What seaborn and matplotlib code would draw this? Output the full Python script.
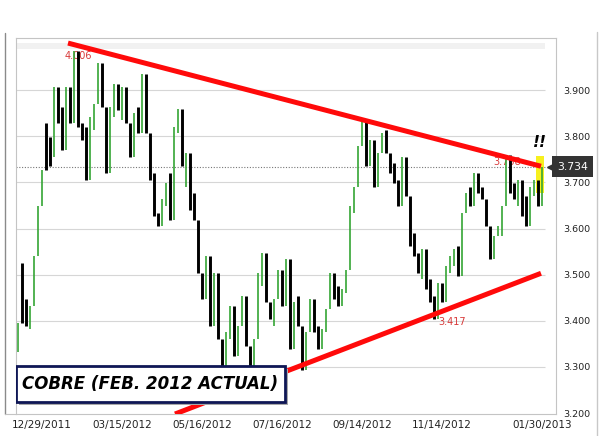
import numpy as np
import pandas as pd
import matplotlib
matplotlib.use("Agg")
import matplotlib.pyplot as plt
from matplotlib.patches import Rectangle
from matplotlib.lines import Line2D
import seaborn as sns

# copper bars (about one bar per two sessions)
highs = [3.396, 3.526, 3.447, 3.432, 3.540, 3.648, 3.727, 3.828, 3.799, 3.907,
         3.893, 3.864, 3.907, 3.886, 3.985, 3.900, 3.828, 3.821, 3.842, 3.871,
         3.958, 3.943, 3.850, 3.864, 3.914, 3.900, 3.907, 3.878, 3.821, 3.850,
         3.864, 3.936, 3.878, 3.799,
         3.720, 3.634, 3.663, 3.699, 3.720, 3.821, 3.860, 3.792, 3.763, 3.706,
         3.677, 3.562, 3.504, 3.540, 3.476, 3.504, 3.447, 3.360, 3.375, 3.432,
         3.382, 3.389, 3.454, 3.411, 3.339, 3.360, 3.504, 3.547, 3.519, 3.440,
         3.447, 3.511,
         3.504, 3.533, 3.396, 3.440, 3.454, 3.360, 3.375, 3.447, 3.425, 3.389,
         3.382, 3.425, 3.504, 3.504, 3.476, 3.468, 3.511, 3.648, 3.691, 3.778,
         3.835, 3.814, 3.792, 3.749, 3.763, 3.806, 3.814, 3.763, 3.742, 3.706,
         3.756, 3.720, 3.641,
         3.591, 3.547, 3.555, 3.519, 3.490, 3.454, 3.483, 3.483, 3.519, 3.540,
         3.555, 3.562, 3.634, 3.677, 3.691, 3.720, 3.713, 3.691, 3.663, 3.591,
         3.584, 3.605, 3.648, 3.760, 3.713, 3.699, 3.706, 3.663, 3.670, 3.691,
         3.706, 3.684, 3.734]
lows = [3.332, 3.447, 3.389, 3.382, 3.461, 3.591, 3.677, 3.735, 3.756, 3.842,
        3.828, 3.771, 3.864, 3.828, 3.878, 3.821, 3.792, 3.706, 3.792, 3.814,
        3.878, 3.864, 3.720, 3.792, 3.842, 3.857, 3.835, 3.828, 3.756, 3.806,
        3.806, 3.864, 3.806, 3.706,
        3.627, 3.605, 3.619, 3.648, 3.619, 3.771, 3.806, 3.735, 3.691, 3.641,
        3.619, 3.504, 3.447, 3.476, 3.389, 3.454, 3.360, 3.296, 3.317, 3.360,
        3.324, 3.346, 3.396, 3.346, 3.290, 3.317, 3.418, 3.476, 3.440, 3.404,
        3.389, 3.461,
        3.432, 3.440, 3.339, 3.375, 3.389, 3.293, 3.332, 3.396, 3.375, 3.339,
        3.346, 3.375, 3.447, 3.447, 3.432, 3.432, 3.461, 3.533, 3.634, 3.720,
        3.792, 3.735, 3.742, 3.691, 3.727, 3.763, 3.763, 3.720, 3.699, 3.648,
        3.706, 3.670, 3.562,
        3.540, 3.504, 3.490, 3.468, 3.440, 3.404, 3.432, 3.440, 3.476, 3.504,
        3.519, 3.497, 3.591, 3.634, 3.648, 3.691, 3.677, 3.663, 3.605, 3.533,
        3.555, 3.584, 3.584, 3.691, 3.677, 3.663, 3.648, 3.627, 3.605, 3.663,
        3.670, 3.648, 3.663]
# g = up bar (green), b = down bar (black)
moves = ("gbbgggg" "bbgbbgbgbbb" "ggg" "bbggbgbbgbgbb"
         "bbggbggb" "gbbbbgbg" "bbggbggb" "bgggbbgg"
         "bgbgbbgg" "bbgggbbg" "gggggbgb" "ggbbbbgb" "b"
         "bbgbbbgb" "gggbggbg" "bbbbgggg" "bbgbbggb" "g")

tick_bars = [6, 26, 46, 66, 86, 106, 131]
tick_dates = ["12/29/2011", "03/15/2012", "05/16/2012", "07/16/2012",
              "09/14/2012", "11/14/2012", "01/30/2013"]
y_ticks = [3.2, 3.3, 3.4, 3.5, 3.6, 3.7, 3.8, 3.9]

last_price = 3.734
peak_price = 4.006
trough_price = 3.417
touch_price = 3.758
upper_trend = pd.DataFrame({"bar": [12.5, 130.75], "price": [4.002, 3.735]})
lower_trend = pd.DataFrame({"bar": [39.25, 130.75], "price": [3.198, 3.503]})

bars = pd.DataFrame({"high": highs, "low": lows, "up": [m == "g" for m in moves]})
bars["bar"] = np.arange(len(bars))
bars["close"] = np.where(bars["up"], bars["high"], bars["low"])
prev = bars["close"].shift(1).fillna(bars["low"])
bars["top"] = np.maximum(bars["high"], prev)
bars["bottom"] = np.minimum(bars["low"], prev)

sns.set_theme(style="white")
plt.rcParams["font.family"] = ["DejaVu Sans"]

fig = plt.figure(figsize=(5.99, 4.36), dpi=100)
ax = fig.add_axes([16 / 599, 1 - 414 / 436, 540 / 599, 376 / 436])
ax.set_xlim(-0.5, 134.5)
ax.set_ylim(3.198, 4.013)
last_x = bars["bar"].iloc[-1] + 0.75

# grid, header strip and last price line
ax.hlines(y_ticks[1:], -0.5, last_x, color="#d6d6d6", lw=0.8, zorder=0)
ax.axhspan(3.989, 4.002, xmin=0, xmax=(last_x + 0.5) / 135, color="#f1f1f1", lw=0, zorder=0)
ax.hlines(last_price, -0.5, last_x, color="#777777", lw=0.8, linestyles=(0, (1, 1.5)), zorder=1)

# yellow highlight on the last bars
ax.add_patch(Rectangle((129.5, 3.677), 2.0, 0.08, color="#f7f01e", lw=0, zorder=1))

up = bars[bars["up"]]
dn = bars[~bars["up"]]
ax.vlines(up["bar"], up["bottom"], up["top"], color="#35a535", lw=1.2, zorder=2)
ax.vlines(dn["bar"], dn["bottom"], dn["top"], color="black", lw=2.1, zorder=2)

# labels that sit under the trend lines
ax.text(15, 3.975, f"{peak_price:.3f}", color="#d83a3a", fontsize=7, ha="center", va="center", zorder=1)
ax.text(122.3, 3.744, f"{touch_price:.3f}", color="#d83a3a", fontsize=7, ha="center", va="center", zorder=1)
ax.text(108.5, 3.397, f"{trough_price:.3f}", color="#d83a3a", fontsize=7, ha="center", va="center", zorder=3)

sns.lineplot(data=upper_trend, x="bar", y="price", ax=ax, color="#ff0a0a", lw=3.6,
             solid_capstyle="butt", zorder=4)
sns.lineplot(data=lower_trend, x="bar", y="price", ax=ax, color="#ff0a0a", lw=3.6,
             solid_capstyle="butt", zorder=4)

ax.text(130.5, 3.787, "!!", fontsize=11, fontweight="bold", fontstyle="italic",
        ha="center", va="center", color="black", zorder=5)

# last price flag on the right
ax.text(138.6, last_price, f"{last_price:.3f}", fontsize=7.8, color="white", ha="center",
        va="center", zorder=6, clip_on=False,
        bbox=dict(boxstyle="square,pad=0.5", fc="#333333", ec="none"))
ax.plot([133.2], [last_price], marker="<", ms=6, color="#333333", clip_on=False, zorder=6)

# title box
ax.add_patch(Rectangle((0.006, 0.024), 0.498, 0.096, transform=ax.transAxes,
                       fc="#a8a8a8", ec="none", zorder=7))
ax.add_patch(Rectangle((0.0, 0.032), 0.498, 0.096, transform=ax.transAxes,
                       fc="white", ec="#0e1655", lw=2, zorder=8))
ax.text(0.249, 0.080, "COBRE (FEB. 2012 ACTUAL)", transform=ax.transAxes, fontsize=12,
        fontweight="bold", fontstyle="italic", ha="center", va="center", color="black", zorder=9)

ax.set_xticks(tick_bars)
ax.set_xticklabels(tick_dates)
ax.set_yticks(y_ticks)
ax.set_yticklabels([f"{v:.3f}" for v in y_ticks])
ax.yaxis.tick_right()
ax.tick_params(axis="x", length=0, pad=4, labelsize=7.5, labelcolor="#222222")
ax.tick_params(axis="y", length=0, pad=5, labelsize=6.8, labelcolor="#222222")
ax.set_xlabel("")
ax.set_ylabel("")
for s in ax.spines.values():
    s.set_color("#c4c4c4")
    s.set_linewidth(0.8)

# page frame around the chart
fig.add_artist(Line2D([5 / 599, 5 / 599], [1 - 414 / 436, 1 - 33 / 436], color="#8a8a8a", lw=1))
fig.add_artist(Line2D([5 / 599, 16 / 599], [1 - 414 / 436, 1 - 414 / 436], color="#c4c4c4", lw=0.8))
fig.add_artist(Line2D([597 / 599, 597 / 599], [0, 1 - 32 / 436], color="#c8c8c8", lw=1))

fig.savefig("out.png", dpi=100)
